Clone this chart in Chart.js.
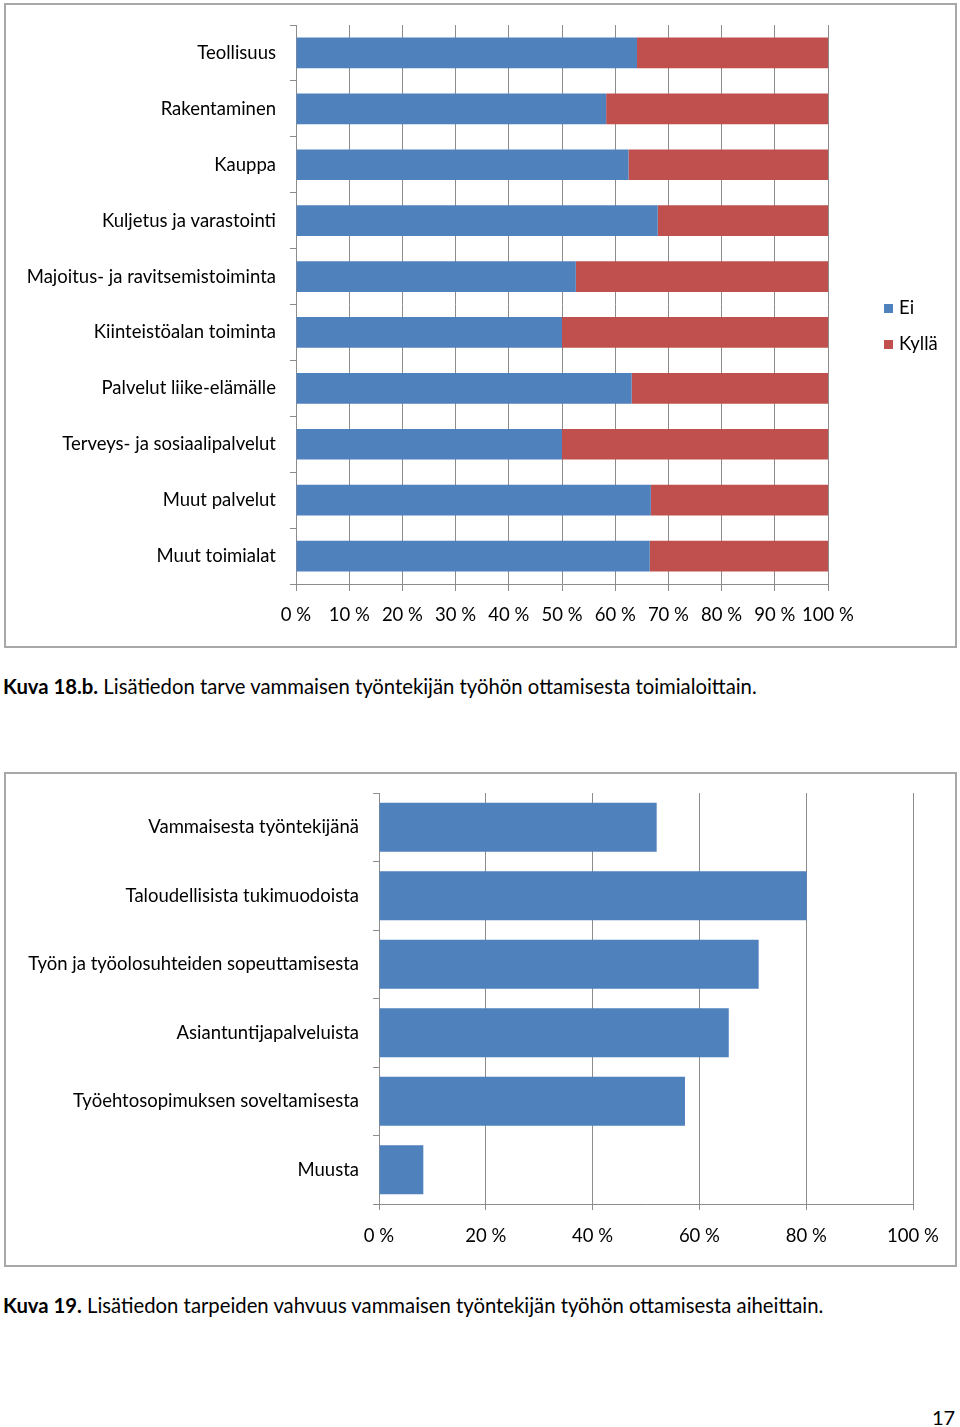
<!DOCTYPE html>
<html><head><meta charset="utf-8">
<script src="https://cdn.jsdelivr.net/npm/chart.js@4/dist/chart.umd.min.js"></script>
<style>
body{margin:0;width:960px;height:1427px;background:#fff;position:relative;overflow:hidden;font-family:Lato,'Liberation Sans',sans-serif;color:#000;}
.box{position:absolute;border:2px solid #a8a8a8;box-sizing:border-box;}
canvas{position:absolute;}
.cap{position:absolute;left:3px;font-size:20.3px;white-space:nowrap;line-height:24px;}
.leg{position:absolute;font-size:18.5px;line-height:20px;}
.sw{display:inline-block;width:9px;height:9px;margin-right:6px;vertical-align:1px;}
</style></head>
<body>
<div class="box" style="left:4px;top:3px;width:953px;height:645px;"></div>
<canvas id="c1" width="950" height="641" style="left:6px;top:6px;"></canvas>
<div class="leg" style="left:884px;top:297px;"><span class="sw" style="background:#4F81BD"></span>Ei</div>
<div class="leg" style="left:884px;top:333px;"><span class="sw" style="background:#C0504D"></span>Kyllä</div>
<div class="cap" style="top:674px;"><b>Kuva 18.b.</b> Lisätiedon tarve vammaisen työntekijän työhön ottamisesta toimialoittain.</div>

<div class="box" style="left:4px;top:772px;width:953px;height:495px;"></div>
<canvas id="c2" width="950" height="491" style="left:6px;top:774px;"></canvas>
<div class="cap" style="top:1293px;"><b>Kuva 19.</b> Lisätiedon tarpeiden vahvuus vammaisen työntekijän työhön ottamisesta aiheittain.</div>
<div style="position:absolute;left:932px;top:1405px;font-size:20px;">17</div>

<script>
const categories1 = ["Teollisuus","Rakentaminen","Kauppa","Kuljetus ja varastointi","Majoitus- ja ravitsemistoiminta","Kiinteistöalan toiminta","Palvelut liike-elämälle","Terveys- ja sosiaalipalvelut","Muut palvelut","Muut toimialat"];
const eiValues = [64.1, 58.3, 62.5, 68.0, 52.6, 50.0, 63.1, 50.0, 66.7, 66.5];
const kyllaValues = [35.9, 41.7, 37.5, 32.0, 47.4, 50.0, 36.9, 50.0, 33.3, 33.5];
const ticks1 = [0,10,20,30,40,50,60,70,80,90,100];

const categories2 = ["Vammaisesta työntekijänä","Taloudellisista tukimuodoista","Työn ja työolosuhteiden sopeuttamisesta","Asiantuntijapalveluista","Työehtosopimuksen soveltamisesta","Muusta"];
const values2 = [52.0, 80.1, 71.1, 65.5, 57.3, 8.3];
const ticks2 = [0,20,40,60,80,100];

const FONT = "Lato, 'Liberation Sans', sans-serif";
const GRID = '#8c8c8c';
const FS = 18.5;

function fixY(w){ return s=>{ s.width=w; s.paddingTop=0; s.paddingBottom=0; }; }

new Chart(document.getElementById('c1'), {
  type:'bar',
  data:{labels:categories1, datasets:[
    {label:'Ei', data:eiValues, backgroundColor:'#4F81BD', categoryPercentage:0.55, barPercentage:1},
    {label:'Kyllä', data:kyllaValues, backgroundColor:'#C0504D', categoryPercentage:0.55, barPercentage:1}
  ]},
  options:{
    indexAxis:'y', responsive:false, animation:false, devicePixelRatio:1,
    layout:{padding:{left:0,right:128,top:19,bottom:0}},
    plugins:{legend:{display:false}, tooltip:{enabled:false}},
    scales:{
      x:{stacked:true, min:0, max:100, afterBuildTicks:s=>{s.ticks=ticks1.map(v=>({value:v}));},
        afterFit:s=>{s.height=63;},
        grid:{color:GRID, tickLength:7}, border:{color:GRID},
        ticks:{callback:v=>v+' %', color:'#000', font:{family:FONT,size:FS}, padding:13, maxRotation:0, autoSkip:false}},
      y:{stacked:true, afterFit:fixY(290),
        grid:{offset:true, drawOnChartArea:false, color:GRID, tickLength:6}, border:{color:GRID},
        ticks:{color:'#000', font:{family:FONT,size:FS}, padding:14, autoSkip:false}}
    }
  }
});

new Chart(document.getElementById('c2'), {
  type:'bar',
  data:{labels:categories2, datasets:[
    {label:'Osuus', data:values2, backgroundColor:'#4F81BD', categoryPercentage:0.715, barPercentage:1}
  ]},
  options:{
    indexAxis:'y', responsive:false, animation:false, devicePixelRatio:1,
    layout:{padding:{left:0,right:43,top:19,bottom:0}},
    plugins:{legend:{display:false}, tooltip:{enabled:false}},
    scales:{
      x:{min:0, max:100, afterBuildTicks:s=>{s.ticks=ticks2.map(v=>({value:v}));},
        afterFit:s=>{s.height=61;},
        grid:{color:GRID, tickLength:6}, border:{color:GRID},
        ticks:{callback:v=>v+' %', color:'#000', font:{family:FONT,size:FS}, padding:15, maxRotation:0, autoSkip:false}},
      y:{afterFit:fixY(373),
        grid:{offset:true, drawOnChartArea:false, color:GRID, tickLength:6}, border:{color:GRID},
        ticks:{color:'#000', font:{family:FONT,size:FS}, padding:14, autoSkip:false}}
    }
  }
});
</script>
</body></html>
